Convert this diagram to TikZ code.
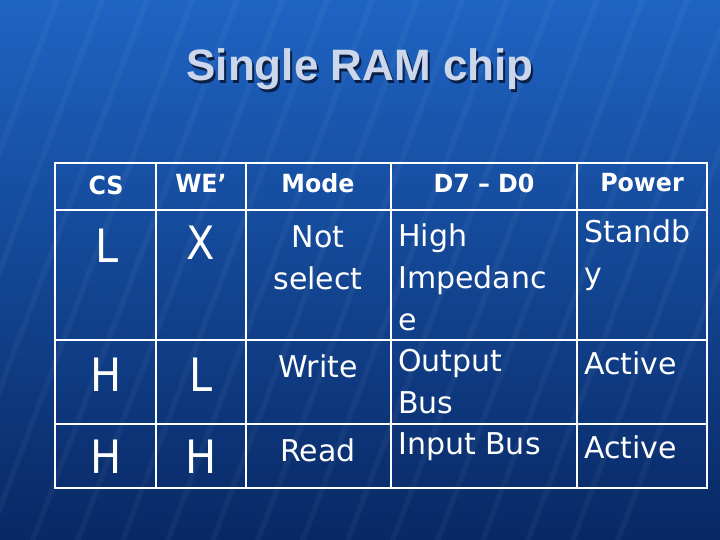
\documentclass[tikz,border=0pt]{standalone}
\usepackage{fontspec}
\setmainfont{DejaVu Sans}
\newfontfamily\titlefont{Liberation Sans}
\begin{document}
\begin{tikzpicture}[x=1pt,y=-1pt,
  hd/.style={text=white,font=\bfseries\fontsize{25}{30}\selectfont,xscale=0.95},
  bd/.style={text=white,font=\fontsize{30}{42}\selectfont,inner sep=0pt},
  big/.style={text=white,font=\fontsize{46}{54}\selectfont,xscale=0.9},
  gl/.style={white,line width=2pt}]
\useasboundingbox (0,0) rectangle (720,540);
\shade[top color={rgb,255:red,30;green,100;blue,195},bottom color={rgb,255:red,8;green,40;blue,100}] (0,0) rectangle (720,540);
\foreach \i in {0,45,...,800}{
  \fill[white,opacity=0.04] (\i-150,540) -- (\i-144,540) -- (\i+60,0) -- (\i+54,0) -- cycle;}
\node[text={rgb,255:red,10;green,30;blue,70},font=\titlefont\bfseries\fontsize{44}{48}\selectfont] (ts) at (362,72) {Single RAM chip};
\node[text={rgb,255:red,205;green,215;blue,235},font=\titlefont\bfseries\fontsize{44}{48}\selectfont] (t) at (360,69) {Single RAM chip};
% grid
\draw[gl] (55,163) rectangle (707,488);
\foreach \x in {156,246,391,577} \draw[gl] (\x,163) -- (\x,488);
\foreach \y in {210,340,424} \draw[gl] (55,\y) -- (707,\y);
% header
\node[hd] (h1) at (106,185) {CS};
\node[hd] (h2) at (201,183) {WE’};
\node[hd] (h3) at (318,183) {Mode};
\node[hd] (h4) at (484,183) {D7 – D0};
\node[hd] (h5) at (642,183) {Power};
% row 1
\node[big] (a1) at (107,246) {L};
\node[big] (a2) at (201,243) {X};
\node[bd,align=center] (a3) at (318,258) {Not\\select};
\node[bd,anchor=west,align=left] (a4) at (398,277) {High\\Impedanc\\e};
\node[bd,anchor=west,align=left] (a5) at (584,255) {Standb\\y};
% row 2
\node[big] (b1) at (106,375) {H};
\node[big] (b2) at (201,375) {L};
\node[bd] (b3) at (318,366) {Write};
\node[bd,anchor=west,align=left] (b4) at (398,382) {Output\\Bus};
\node[bd,anchor=west] (b5) at (584,363) {Active};
% row 3
\node[big] (c1) at (106,457) {H};
\node[big] (c2) at (201,457) {H};
\node[bd] (c3) at (318,450) {Read};
\node[bd,anchor=west] (c4) at (398,447) {Input Bus};
\node[bd,anchor=west] (c5) at (584,447) {Active};
\end{tikzpicture}
\end{document}
